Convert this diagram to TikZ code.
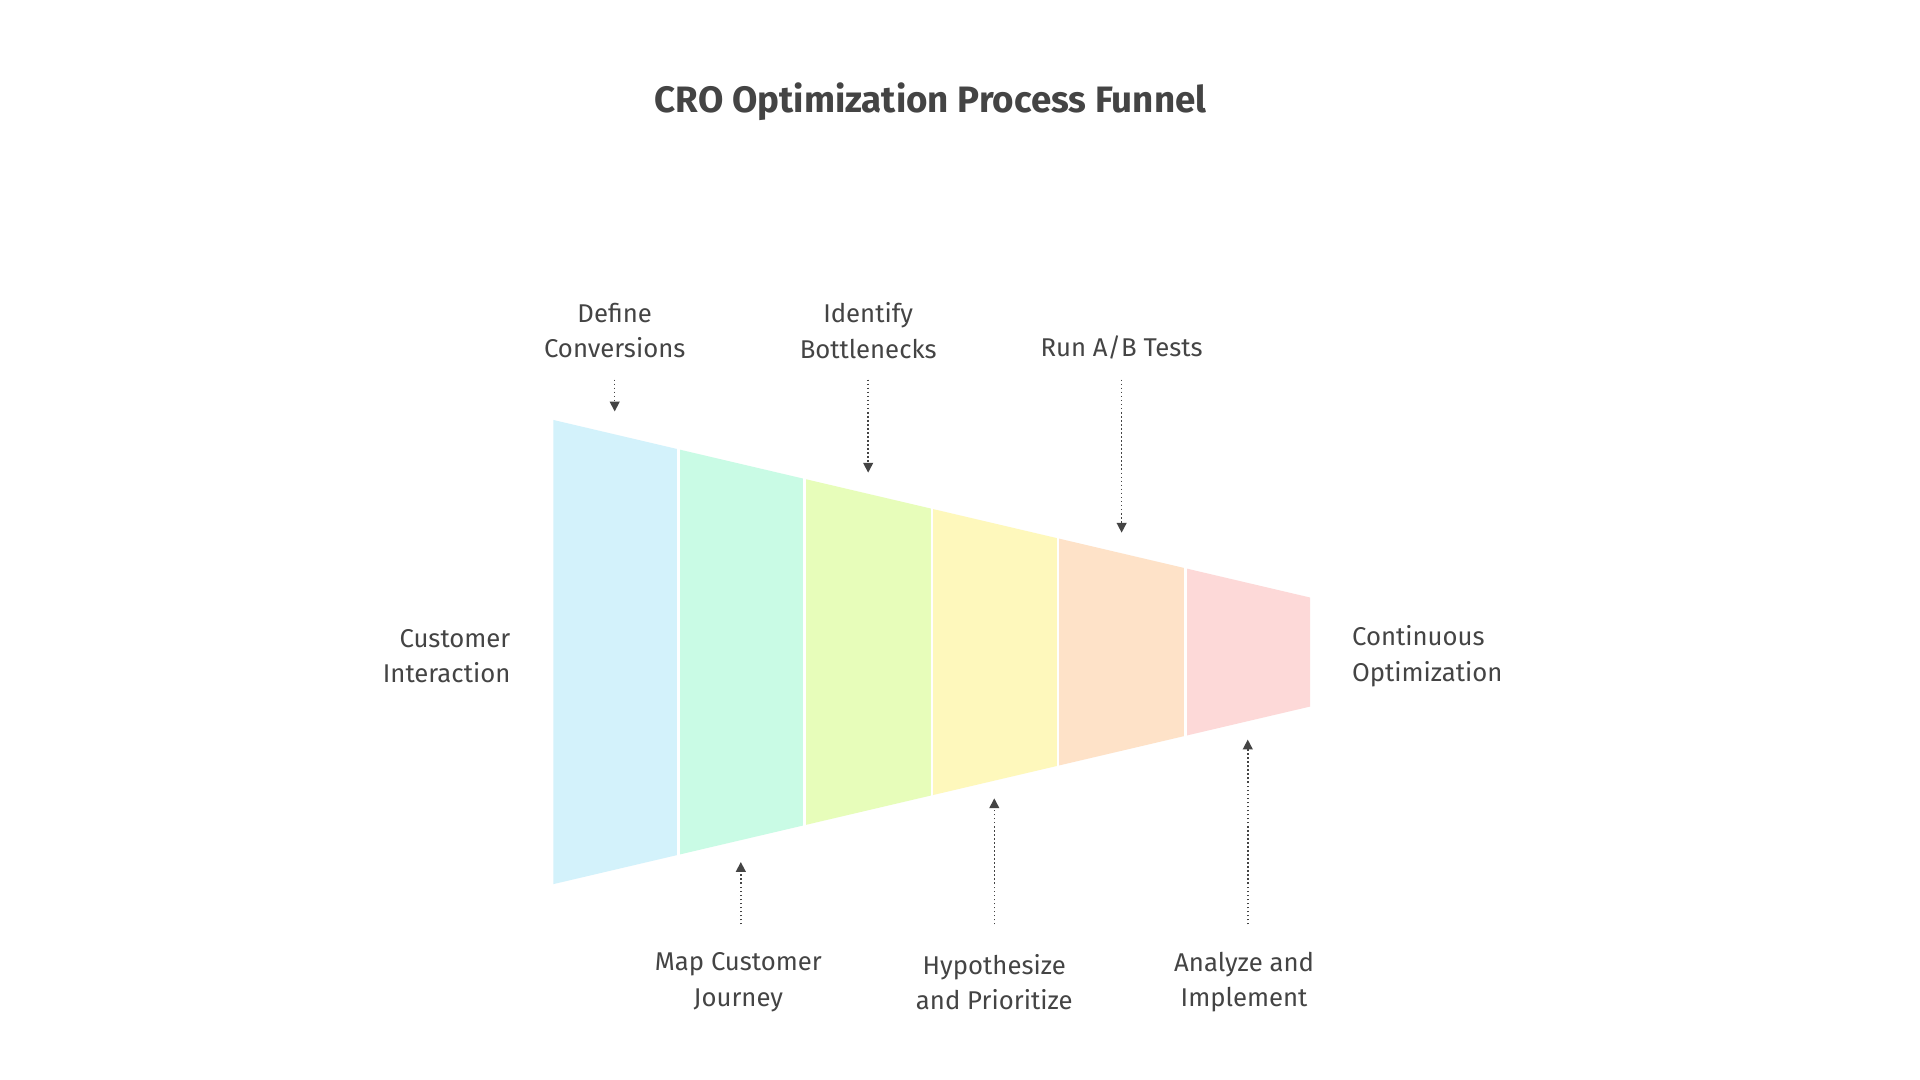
\documentclass[tikz,border=0pt]{standalone}
\usepackage{fontspec}
\setmainfont{Fira Sans}
\usetikzlibrary{arrows.meta}
\definecolor{txt}{HTML}{444444}
\definecolor{cA}{HTML}{D3F2FB}
\definecolor{cB}{HTML}{C9FBE5}
\definecolor{cC}{HTML}{E7FDBA}
\definecolor{cD}{HTML}{FEF8BC}
\definecolor{cE}{HTML}{FEE2C8}
\definecolor{cF}{HTML}{FDD9D8}
\tikzset{
 lbl/.style={text=txt,font=\fontsize{21}{29}\selectfont,align=center,inner sep=0pt},
 conn/.style={draw=txt,line width=1.3pt,dotted,-{Triangle[length=8pt,width=8pt,fill=txt]}},
}
\begin{document}
\begin{tikzpicture}[x=1pt,y=-1pt]
\useasboundingbox (0,0) rectangle (1568,882);
\fill[white] (0,0) rectangle (1568,882);
\newcommand{\ty}[1]{343+(#1-452)*0.23463}
\newcommand{\by}[1]{722-(#1-452)*0.23463}
\foreach \a/\b/\c in {452/554/cA,554/657/cB,657/761/cC,761/864/cD,864/968/cE,968/1070/cF}{
 \fill[\c] (\a,{\ty{\a}}) -- (\b,{\ty{\b}}) -- (\b,{\by{\b}}) -- (\a,{\by{\a}}) -- cycle;
}
\foreach \a in {554,657,761,864,968}{
 \draw[white,line width=2pt] (\a,{\ty{\a}-1}) -- (\a,{\by{\a}+1});
}
\node[text=txt,font=\bfseries\fontsize{30}{36}\selectfont] (title) at (760,83) {CRO Optimization Process Funnel};
\node[lbl] (t1) at (502,270) {Define\\Conversions};
\node[lbl] (t2) at (709,270) {Identify\\Bottlenecks};
\node[lbl] (t3) at (916,284) {Run A/B Tests};
\node[lbl] (b1) at (603,802) {Map Customer\\Journey};
\node[lbl] (b2) at (812,802) {Hypothesize\\and Prioritize};
\node[lbl] (b3) at (1016,802) {Analyze and\\Implement};
\node[lbl,align=right,anchor=east] (l) at (417,536) {Customer\\Interaction};
\node[lbl,align=left,anchor=west] (r) at (1104,536) {Continuous\\Optimization};
\coordinate (a1s) at (502,310); \coordinate (a1e) at (502,336);
\coordinate (a2s) at (709,310); \coordinate (a2e) at (709,386);
\coordinate (a3s) at (916,310); \coordinate (a3e) at (916,435);
\coordinate (b1s) at (605,755); \coordinate (b1e) at (605,704);
\coordinate (b2s) at (812,755); \coordinate (b2e) at (812,652);
\coordinate (b3s) at (1019,755); \coordinate (b3e) at (1019,604);
\foreach \s/\e in {a1s/a1e,a2s/a2e,a3s/a3e,b1s/b1e,b2s/b2e,b3s/b3e}{\draw[conn] (\s) -- (\e);}
\end{tikzpicture}
\end{document}
